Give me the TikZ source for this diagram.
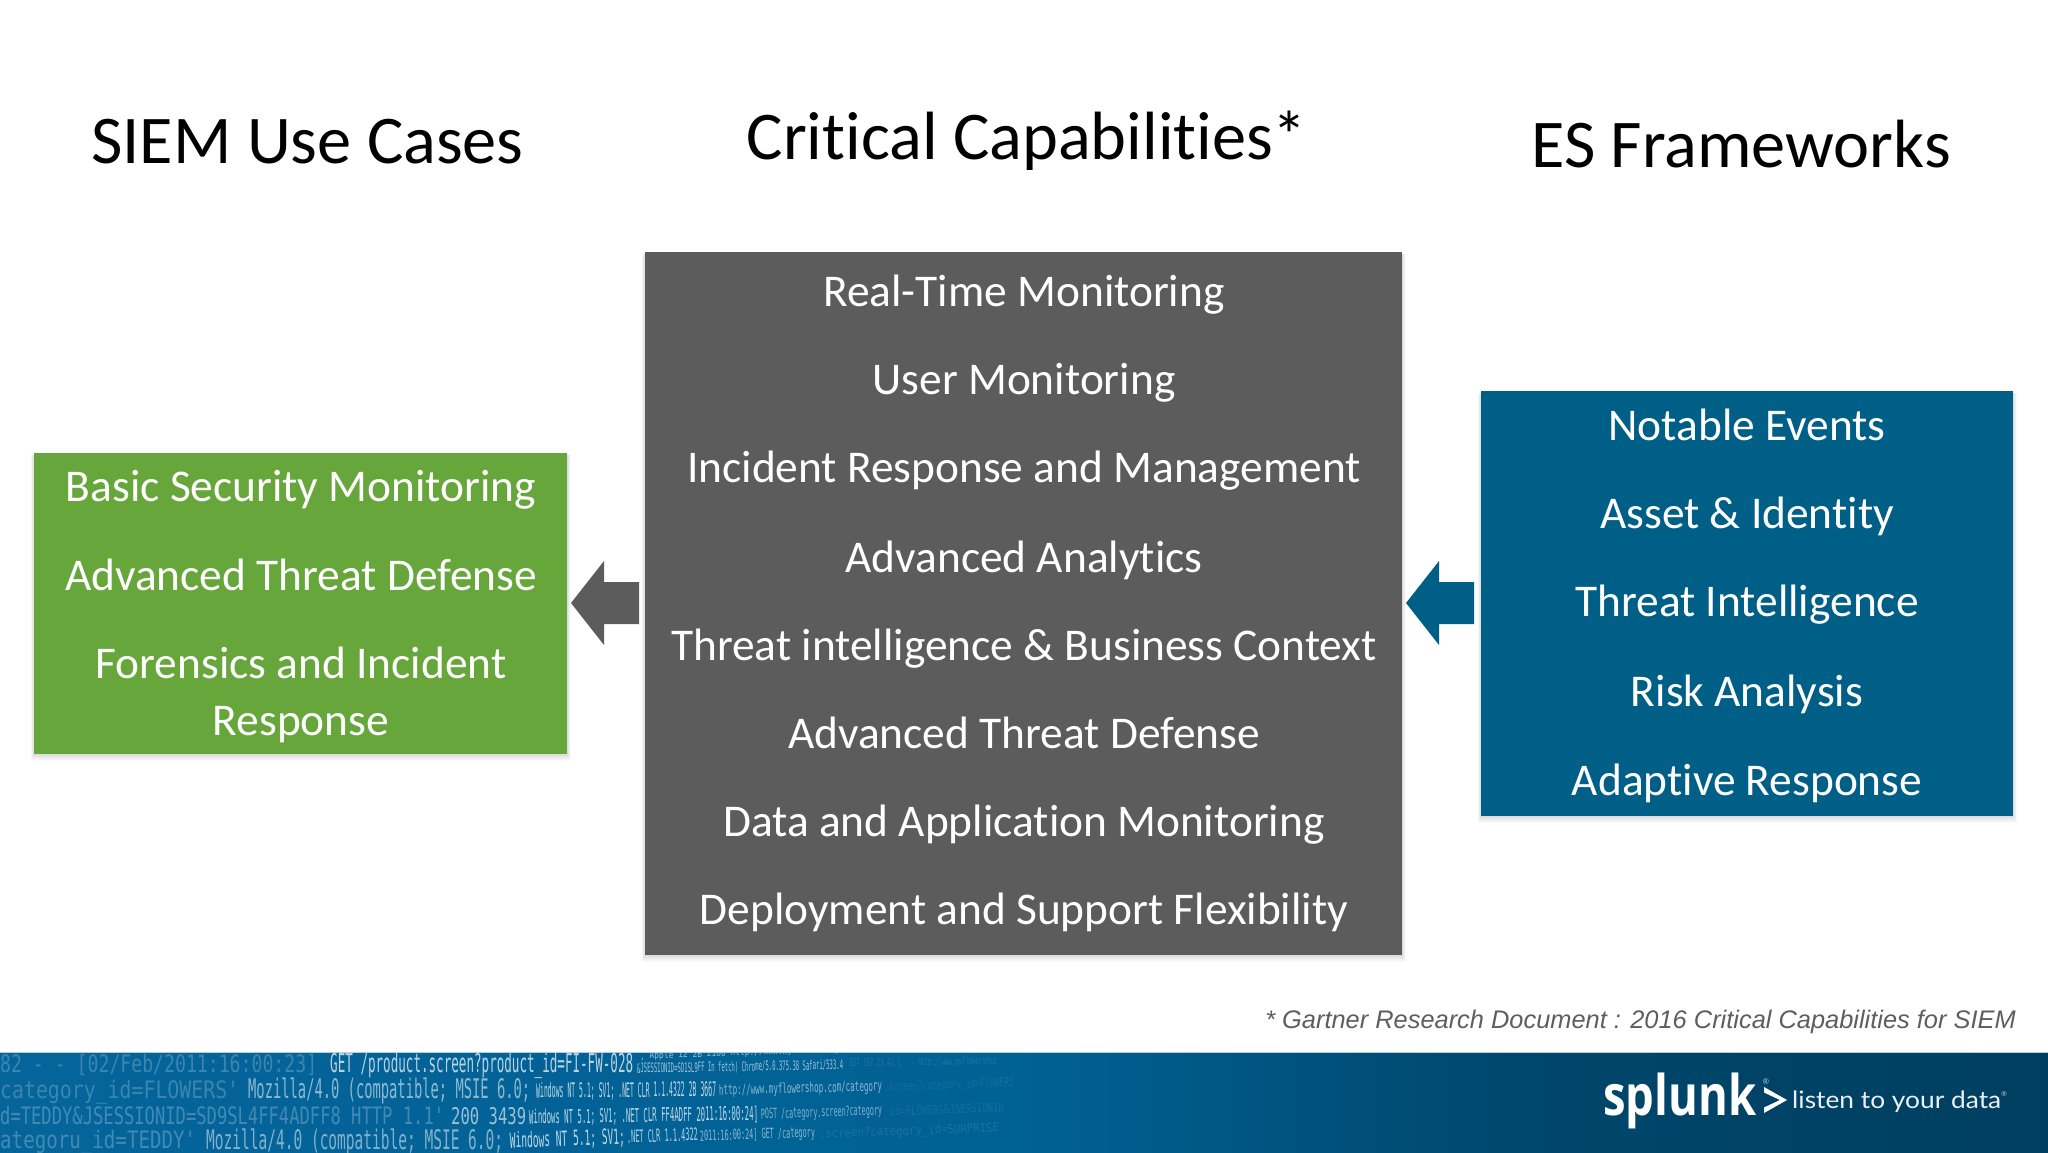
\documentclass[tikz,border=0pt]{standalone}
\usepackage{fontspec}
\usepackage{graphicx}
\setmainfont[RawFeature=-liga;-clig]{Carlito}
\newfontfamily\logfont{DejaVu Sans Mono}
\newfontfamily\notefont{Liberation Sans}
\newfontfamily\brandfont{Open Sans}
\newfontfamily\tagfont{Lato}
\definecolor{cgreen}{HTML}{66A63B}
\definecolor{cgray}{HTML}{5C5C5C}
\definecolor{cblue}{HTML}{005F87}
\definecolor{cnote}{HTML}{5E5E5E}
\definecolor{fa}{HTML}{125F90}
\definecolor{fb}{HTML}{05649A}
\definecolor{fc}{HTML}{006194}
\definecolor{fd}{HTML}{00476D}
\definecolor{fe}{HTML}{003B5A}
\pgfdeclarehorizontalshading{footershade}{100bp}{
 color(0bp)=(fa);
 color(25bp)=(fb);
 color(50bp)=(fc);
 color(62bp)=(fd);
 color(80bp)=(fe);
 color(100bp)=(fe)}
\tikzset{
 title/.style={font=\fontsize{68.3}{68.3}\selectfont,text=black,anchor=base,inner sep=0pt},
 item/.style={font=\fontsize{45.4}{45.4}\selectfont,text=white,anchor=base,inner sep=0pt}
}
\newcounter{logn}
% x, baseline, target width, font size, opacity, rotation, text
\newcommand{\logt}[7]{\stepcounter{logn}%
 \node[anchor=base west,inner sep=0pt,text=white,text opacity=#5,rotate=#6] (log\thelogn) at (#1,#2)
 {\fontsize{#4}{#4}\logfont\resizebox{#3pt}{\height}{\detokenize{#7}}};}
\newcommand{\panelbox}[4]{% x1,y1,x2,y2
 \foreach \s in {1,...,7}{\fill[black,opacity=.02] (#1-\s*0.5,#2+2) rectangle (#3+\s*0.5,#4+\s*1.0);}
}
\begin{document}
\begin{tikzpicture}[x=1pt,y=-1pt]
\useasboundingbox (0,0) rectangle (2048,1152);
\fill[white] (0,0) rectangle (2048,1152);
% titles
\node[title] (t1) at (307.5,163) {SIEM Use Cases};
\node[title] (t2) at (1027,159) {Critical Capabilities*};
\node[title] (t3) at (1741,167) {ES Frameworks};
% panels
\panelbox{34}{453}{567}{754}
\panelbox{645}{252}{1402}{955}
\panelbox{1481}{391}{2013}{816}
\fill[cgreen] (34,453) rectangle (567,754);
\fill[cgray] (645,252) rectangle (1402,955);
\fill[cblue] (1481,391) rectangle (2013,816);
% arrows
\fill[cgray] (571,603) -- (604,561) -- (604,582) -- (639,582) -- (639,624) -- (604,624) -- (604,645) -- cycle;
\fill[cblue] (1406,603) -- (1439,561) -- (1439,582) -- (1474,582) -- (1474,624) -- (1439,624) -- (1439,645) -- cycle;
% green items
\node[item] (g1) at (301,501) {Basic Security Monitoring};
\node[item] (g2) at (301,590) {Advanced Threat Defense};
\node[item] (g3) at (301,678.5) {Forensics and Incident};
\node[item] (g4) at (301,735) {Response};
% gray items
\node[item] (m1) at (1024,306) {Real-Time Monitoring};
\node[item] (m2) at (1024,394) {User Monitoring};
\node[item] (m3) at (1024,482) {Incident Response and Management};
\node[item] (m4) at (1024,572) {Advanced Analytics};
\node[item] (m5) at (1024,660) {Threat intelligence \& Business Context};
\node[item] (m6) at (1024,748) {Advanced Threat Defense};
\node[item] (m7) at (1024,836) {Data and Application Monitoring};
\node[item] (m8) at (1024,924) {Deployment and Support Flexibility};
% blue items
\node[item] (b1) at (1747,440) {Notable Events};
\node[item] (b2) at (1747,528) {Asset \& Identity};
\node[item] (b3) at (1747,616) {Threat Intelligence};
\node[item] (b4) at (1747,706) {Risk Analysis};
\node[item] (b5) at (1747,795) {Adaptive Response};
% footnote
\node[anchor=base east,inner sep=0pt,text=cnote,font=\fontsize{25.4}{25.4}\notefont\itshape] (note) at (2016,1028) {* Gartner Research Document : 2016 Critical Capabilities for SIEM};
% footer
\shade[shading=footershade] (0,1052) rectangle (2048,1152);
\draw[white!70!cblue,line width=.8pt] (0,1052) -- (2048,1052);
\begin{scope}
\clip (0,1053) rectangle (2048,1152);
\logt{0}{1072}{317}{24}{.22}{0}{82 - - [02/Feb/2011:16:00:23]}
\logt{330}{1072}{303}{26}{.72}{0}{GET /product.screen?product_id=FI-FW-028}
\logt{637}{1073}{206}{13}{.62}{1}{&JSESSIONID=SD1SL9FF In fetch) Chrome/5.0.375.38 Safari/533.4}
\logt{846}{1067}{150}{11}{.12}{1}{ 157 197.23.42.1 - - http://www.myflowershop}
\logt{640}{1059}{200}{9}{.6}{2}{, Apple 12 2B 2100 http://www.myflowershop}
\logt{0}{1098}{239}{24}{.22}{0}{category_id=FLOWERS'}
\logt{248}{1098}{282}{27}{.55}{0}{Mozilla/4.0 (compatible; MSIE 6.0;}
\logt{536}{1098}{180}{20}{.75}{0.5}{Windows NT 5.1; SV1; .NET CLR 1.1.4322 2B 3667}
\logt{719}{1095}{163}{14}{.55}{1.5}{http://www.myflowershop.com/category}
\logt{884}{1091}{130}{12}{.08}{2}{.screen?category_id=FLOWERS}
\logt{0}{1124}{444}{24}{.25}{0}{d=TEDDY&JSESSIONID=SD9SL4FF4ADFF8 HTTP 1.1'}
\logt{451}{1124}{75}{23}{.6}{0}{200 3439}
\logt{529}{1124}{229}{19}{.75}{1}{Windows NT 5.1; SV1; .NET CLR FF4ADFF 2011:16:00:24]}
\logt{761}{1119}{121}{14}{.5}{2}{POST /category.screen?category}
\logt{884}{1116}{120}{12}{.08}{2}{_id=FLOWERS&JSESSIONID}
\logt{0}{1148}{196}{24}{.25}{0}{ategoru_id=TEDDY'}
\logt{206}{1149}{297}{27}{.5}{0}{Mozilla/4.0 (compatible; MSIE 6.0;}
\logt{510}{1148}{115}{21}{.75}{2}{Windows NT 5.1; SV1;}
\logt{627}{1143}{71}{17}{.7}{2}{.NET CLR 1.1.4322}
\logt{700}{1141}{115}{14}{.55}{2}{2011:16:00:24] GET /category}
\logt{819}{1138}{180}{12}{.1}{2}{.screen?category_id=SURPRISE}
\end{scope}
% logo
\node[anchor=base west,inner sep=0pt,text=white,font=\fontsize{56}{56}\brandfont\bfseries] (logo) at (1603,1115) {\resizebox{153pt}{\height}{splunk}};
\fill[white] (1764,1087) -- (1787,1100) -- (1764,1113) -- (1764,1107.5) -- (1780,1100) -- (1764,1092.5) -- cycle;
\node[anchor=base west,inner sep=0pt,text=white,text opacity=.92,font=\fontsize{24}{24}\tagfont] (tag) at (1792,1108) {\resizebox{209pt}{\height}{listen to your data}};
\node[anchor=center,inner sep=0pt,text=white,text opacity=.7,font=\fontsize{8}{8}\tagfont] (regA) at (1766,1082) {®};
\node[anchor=center,inner sep=0pt,text=white,text opacity=.7,font=\fontsize{7}{7}\tagfont] (regB) at (2004,1094) {®};
\end{tikzpicture}
\end{document}
